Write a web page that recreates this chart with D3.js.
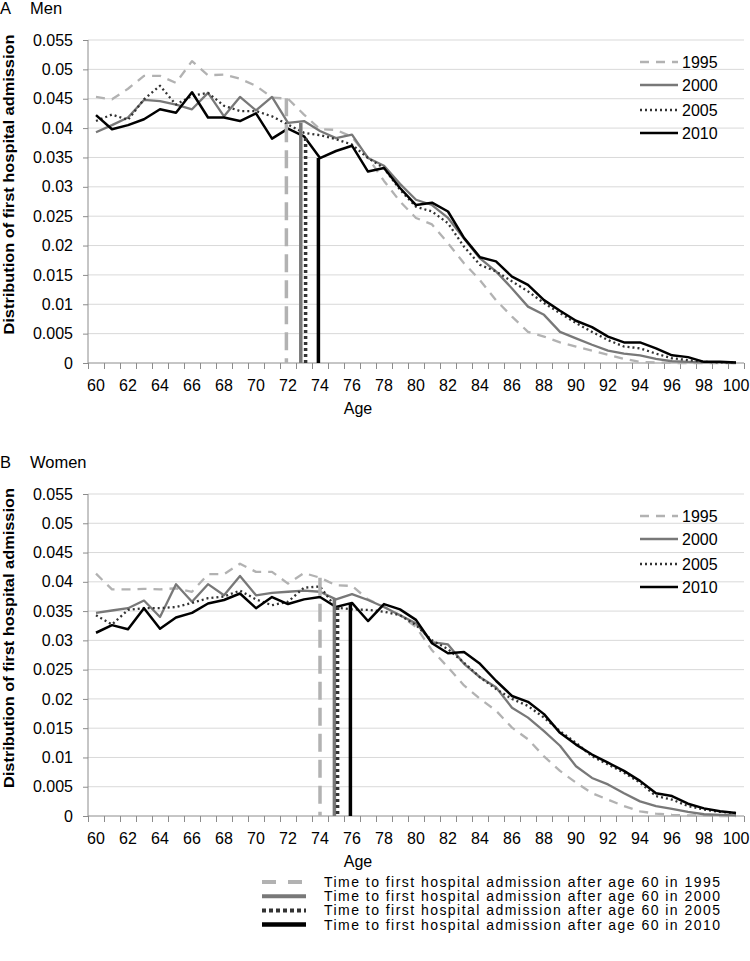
<!DOCTYPE html>
<html><head><meta charset="utf-8">
<script src="https://cdn.jsdelivr.net/npm/d3@7"></script>
<style>
html,body{margin:0;padding:0;background:#fff;}
text{font-family:"Liberation Sans",Arial,sans-serif;fill:#000;}
</style></head>
<body>
<svg id="chart" width="750" height="961"></svg>
<script>
// ---------- DATA ----------
const ages = d3.range(60, 101);
const years = ["1995", "2000", "2005", "2010"];
const yTickValues = [0,0.005,0.01,0.015,0.02,0.025,0.03,0.035,0.04,0.045,0.05,0.055];
const yTickLabels = ["0","0.005","0.01","0.015","0.02","0.025","0.03","0.035","0.04","0.045","0.05","0.055"];
const xTickLabels = d3.range(60, 101, 2).map(String);

const men1995 = [0.0453,0.0449,0.0467,0.0489,0.0489,0.0477,0.0514,0.0490,0.0491,0.0484,0.0472,0.0452,0.0450,0.0423,0.0398,0.0397,0.0385,0.0350,0.0310,0.0275,0.0247,0.0236,0.0204,0.0170,0.0141,0.0107,0.0079,0.0053,0.0045,0.0035,0.0028,0.0021,0.0014,0.0007,0.0002,0.0001,0,0,0,0,0];
const men2000 = [0.0393,0.0405,0.0418,0.0448,0.0446,0.0440,0.0432,0.0460,0.0420,0.0453,0.0430,0.0453,0.0409,0.0412,0.0395,0.0383,0.0389,0.0349,0.0336,0.0305,0.0278,0.0269,0.0247,0.0212,0.0178,0.0156,0.0127,0.0096,0.0082,0.0053,0.0042,0.0031,0.0021,0.0016,0.0013,0.0007,0.0003,0.0002,0.0001,0.0001,0];
const men2005 = [0.0412,0.0423,0.0414,0.0449,0.0472,0.0440,0.0455,0.0460,0.0438,0.0429,0.0429,0.0420,0.0406,0.0392,0.0388,0.0381,0.0372,0.0349,0.0332,0.0295,0.0266,0.0258,0.0238,0.0198,0.0167,0.0156,0.0139,0.0122,0.0102,0.0085,0.0068,0.0053,0.0039,0.0028,0.0025,0.0016,0.0008,0.0005,0.0002,0.0001,0.0001];
const men2010 = [0.0422,0.0398,0.0405,0.0415,0.0432,0.0426,0.0461,0.0418,0.0418,0.0412,0.0425,0.0382,0.0399,0.0386,0.0349,0.0361,0.0370,0.0326,0.0332,0.0298,0.0269,0.0273,0.0258,0.0213,0.0180,0.0173,0.0147,0.0133,0.0107,0.0089,0.0072,0.0061,0.0045,0.0035,0.0035,0.0025,0.0013,0.0010,0.0002,0.0002,0.0001];

const women1995 = [0.0414,0.0387,0.0387,0.0388,0.0387,0.0389,0.0383,0.0413,0.0413,0.0431,0.0417,0.0417,0.0397,0.0415,0.0407,0.0394,0.0393,0.0370,0.0357,0.0343,0.0323,0.0283,0.0254,0.0223,0.0200,0.0180,0.0151,0.0131,0.0102,0.0077,0.0057,0.0039,0.0028,0.0017,0.0008,0.0004,0.0002,0.0001,0.0001,0,0];
const women2000 = [0.0347,0.0351,0.0355,0.0368,0.0340,0.0396,0.0366,0.0396,0.0377,0.0410,0.0377,0.0381,0.0383,0.0385,0.0383,0.0370,0.0379,0.0369,0.0357,0.0343,0.0329,0.0297,0.0293,0.0260,0.0237,0.0220,0.0185,0.0168,0.0145,0.0120,0.0085,0.0065,0.0054,0.0039,0.0025,0.0017,0.0012,0.0007,0.0003,0.0002,0.0001];
const women2005 = [0.0343,0.0327,0.0352,0.0355,0.0355,0.0357,0.0364,0.0372,0.0375,0.0385,0.0370,0.0360,0.0366,0.0390,0.0392,0.0356,0.0353,0.0352,0.0349,0.0343,0.0326,0.0300,0.0285,0.0262,0.0237,0.0217,0.0200,0.0188,0.0168,0.0145,0.0125,0.0102,0.0088,0.0074,0.0057,0.0034,0.0028,0.0017,0.0011,0.0007,0.0005];
const women2010 = [0.0313,0.0326,0.0319,0.0355,0.0320,0.0339,0.0347,0.0363,0.0369,0.0380,0.0355,0.0374,0.0362,0.0370,0.0374,0.0357,0.0364,0.0333,0.0362,0.0353,0.0335,0.0295,0.0278,0.0280,0.0260,0.0231,0.0205,0.0195,0.0174,0.0142,0.0122,0.0105,0.0091,0.0077,0.0060,0.0039,0.0034,0.0021,0.0013,0.0008,0.0005];

// mean time to first admission (vertical markers): age and height
const menMeanAge = [71.9, 72.8, 73.1, 73.9];
const menMeanTop = [0.0451, 0.0409, 0.0383, 0.0349];
const womenMeanAge = [74.0, 74.9, 75.1, 75.9];
const womenMeanTop = [0.0407, 0.0372, 0.0357, 0.0364];

const bottomLegendLabels = years.map(y => "Time to first hospital admission after age 60 in " + y);

// ---------- STYLES ----------
const lineStyle = {
  "1995": {color: "#b2b2b2", width: 2.3, dash: "9,7"},
  "2000": {color: "#787878", width: 2.3, dash: null},
  "2005": {color: "#333333", width: 2.3, dash: "2,3"},
  "2010": {color: "#000000", width: 2.5, dash: null}
};
const vStyle = {
  "1995": {color: "#b2b2b2", width: 3.5, dash: "18,8"},
  "2000": {color: "#787878", width: 3.5, dash: null},
  "2005": {color: "#333333", width: 3.5, dash: "3,3"},
  "2010": {color: "#000000", width: 3.5, dash: null}
};

const svg = d3.select("#chart");
const xLeft = 88, xRight = 744;
const x = d3.scaleLinear().domain([59.5, 100.5]).range([xLeft, xRight]);

function panel(cfg) {
  const {top, bottom, series, meanAge, meanTop, letter, title} = cfg;
  const g = svg.append("g");
  const y = d3.scaleLinear().domain([0, 0.055]).range([bottom, top]);

  // gridlines
  g.append("g").selectAll("line").data(yTickValues.slice(1)).join("line")
    .attr("x1", xLeft).attr("x2", xRight)
    .attr("y1", d => y(d)).attr("y2", d => y(d))
    .attr("stroke", "#d9d9d9").attr("stroke-width", 1);

  // y axis
  const ya = g.append("g").attr("transform", `translate(${xLeft},0)`)
    .call(d3.axisLeft(y).tickValues(yTickValues).tickSize(5).tickPadding(10)
      .tickFormat((d, i) => yTickLabels[i]));
  ya.select(".domain").attr("stroke", "#8c8c8c").attr("d", `M0,${top}V${bottom}`);
  ya.selectAll(".tick line").attr("stroke", "#8c8c8c");
  ya.selectAll(".tick text").attr("font-size", 16).attr("font-family", "Liberation Sans, Arial, sans-serif").attr("fill", "#000");

  // x axis: tick marks at category boundaries
  const xa = g.append("g").attr("transform", `translate(0,${bottom})`)
    .call(d3.axisBottom(x).tickValues(d3.range(59.5, 101, 1)).tickSize(6).tickFormat(""));
  xa.select(".domain").attr("stroke", "#8c8c8c").attr("d", `M${xLeft},0H${xRight}`);
  xa.selectAll(".tick line").attr("stroke", "#8c8c8c");
  g.append("g").selectAll("text").data(xTickLabels).join("text")
    .attr("x", d => x(+d)).attr("y", bottom + 28)
    .attr("text-anchor", "middle").attr("font-size", 16).text(d => d);

  // axis titles
  g.append("text").attr("x", 358).attr("y", bottom + 51).attr("text-anchor", "middle")
    .attr("font-size", 16).text("Age");
  const cy = (top + bottom) / 2 - 17;
  g.append("text").attr("transform", `translate(14,${cy}) rotate(-90)`)
    .attr("text-anchor", "middle").attr("font-size", 15.5).attr("font-weight", "bold")
    .attr("textLength", 300).attr("lengthAdjust", "spacingAndGlyphs")
    .text("Distribution of first hospital admission");

  // panel title
  g.append("text").attr("x", 0).attr("y", top - 26).attr("font-size", 16.5).text(letter);
  g.append("text").attr("x", 30).attr("y", top - 26).attr("font-size", 16.5).text(title);

  // series lines
  const line = d3.line().x((d, i) => x(ages[i])).y(d => y(d));
  years.forEach((yr, k) => {
    const s = lineStyle[yr];
    g.append("path").datum(series[k]).attr("d", line)
      .attr("fill", "none").attr("stroke", s.color).attr("stroke-width", s.width)
      .attr("stroke-dasharray", s.dash).attr("stroke-linejoin", "round");
  });

  // vertical mean markers
  years.forEach((yr, k) => {
    const s = vStyle[yr];
    g.append("line")
      .attr("x1", x(meanAge[k])).attr("x2", x(meanAge[k]))
      .attr("y1", y(meanTop[k])).attr("y2", y(0))
      .attr("stroke", s.color).attr("stroke-width", s.width)
      .attr("stroke-dasharray", s.dash);
  });

  // in-chart legend
  years.forEach((yr, k) => {
    const s = lineStyle[yr];
    const ly = top + [22, 45, 70, 93][k];
    g.append("line").attr("x1", 640).attr("x2", 678).attr("y1", ly).attr("y2", ly)
      .attr("stroke", s.color).attr("stroke-width", s.width).attr("stroke-dasharray", s.dash);
    g.append("text").attr("x", 682).attr("y", ly + 5.5).attr("font-size", 16).text(yr);
  });
}

panel({top: 40, bottom: 363, series: [men1995, men2000, men2005, men2010],
  meanAge: menMeanAge, meanTop: menMeanTop, letter: "A", title: "Men"});
panel({top: 494, bottom: 816, series: [women1995, women2000, women2005, women2010],
  meanAge: womenMeanAge, meanTop: womenMeanTop, letter: "B", title: "Women"});

// bottom legend
const legStyle = {
  "1995": {color: "#b2b2b2", width: 4, dash: "14,12"},
  "2000": {color: "#787878", width: 4, dash: null},
  "2005": {color: "#333333", width: 4, dash: "4,3"},
  "2010": {color: "#000000", width: 4.5, dash: null}
};
const bl = svg.append("g");
years.forEach((yr, k) => {
  const s = legStyle[yr];
  const ly = 882 + k * 14.2;
  bl.append("line").attr("x1", 262).attr("x2", 306).attr("y1", ly).attr("y2", ly)
    .attr("stroke", s.color).attr("stroke-width", s.width).attr("stroke-dasharray", s.dash);
  bl.append("text").attr("x", 324).attr("y", ly + 5).attr("font-size", 14)
    .attr("textLength", 396).attr("lengthAdjust", "spacing").text(bottomLegendLabels[k]);
});
</script>
</body></html>
